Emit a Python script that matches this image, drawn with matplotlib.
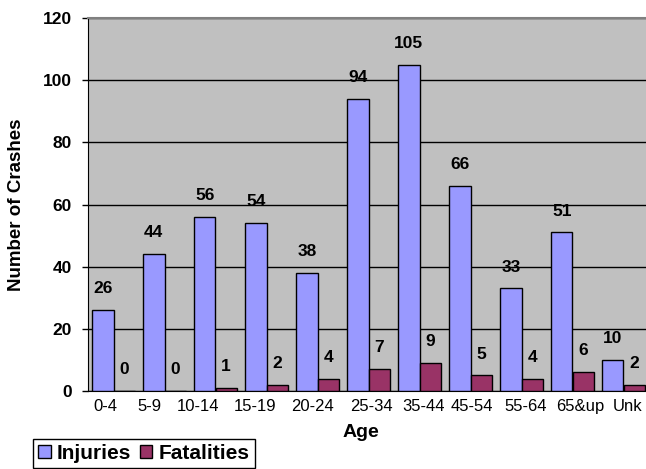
import numpy as np
import matplotlib.pyplot as plt
from matplotlib.transforms import ScaledTranslation

plt.rcParams['font.family'] = ['Liberation Sans', 'DejaVu Sans']

ages = ["0-4", "5-9", "10-14", "15-19", "20-24", "25-34", "35-44", "45-54", "55-64", "65&up", "Unk"]
injuries = [26, 44, 56, 54, 38, 94, 105, 66, 33, 51, 10]
fatalities = [0, 0, 1, 2, 4, 7, 9, 5, 4, 6, 2]

W, H = 646, 469
fig = plt.figure(figsize=(W / 100, H / 100), dpi=100)
# plot area runs slightly past the right edge, as in the original
ax = fig.add_axes([88 / W, (H - 391) / H, 561 / W, 373 / H])
ax.set_facecolor("#C0C0C0")

x = np.arange(len(ages))
w = 0.42
b1 = ax.bar(x - w / 2, injuries, w, color="#9999FF", edgecolor="black", linewidth=1, label="Injuries", zorder=3)
b2 = ax.bar(x + w / 2, fatalities, w, color="#993366", edgecolor="black", linewidth=1, label="Fatalities", zorder=3)

for bars in (b1, b2):
    for r in bars:
        ax.annotate(f"{int(r.get_height())}", (r.get_x() + r.get_width() / 2, r.get_height()),
                    xytext=(0, 10), textcoords="offset points",
                    ha="center", va="bottom", fontsize=12.5, fontweight="bold", zorder=4)

ax.set_xlim(-0.5, len(ages) - 0.5)
ax.set_ylim(0, 120)
ax.set_yticks(range(0, 121, 20))
ax.yaxis.grid(True, color="black", linewidth=1, zorder=1)
ax.set_xticks(x)
ax.set_xticklabels(ages, fontsize=12)
ax.tick_params(axis="x", length=0, pad=6)
ax.tick_params(axis="y", length=4.5, width=1, pad=7, labelsize=12.5)
for t in ax.get_yticklabels():
    t.set_fontweight("bold")

# the original squeezes the category labels a little, shift them (pixels)
label_shift = [-8.5, -15, -18, -11.5, -4.5, 2.5, 4.5, 1.5, 4, 7.5, 4.5]
for t, dx in zip(ax.get_xticklabels(), label_shift):
    t.set_transform(t.get_transform() + ScaledTranslation(dx / 100, 0, fig.dpi_scale_trans))

ax.spines["top"].set_color("#808080")
ax.spines["top"].set_linewidth(1.5)
ax.spines["right"].set_visible(False)
ax.spines["left"].set_color("black")
ax.spines["bottom"].set_color("black")

ax.set_ylabel("Number of Crashes", fontsize=13.5, fontweight="bold")
ax.yaxis.set_label_coords((17 - 88) / 561, 0.5)
ax.set_xlabel("Age", fontsize=14, fontweight="bold")
ax.xaxis.set_label_coords((361 - 88) / 561, (391 - 432) / 373)
ax.xaxis.label.set_va("center")
ax.yaxis.label.set_va("center")

fig.legend(loc="upper left", bbox_to_anchor=(33 / W, 1 - 439 / H), ncol=2, frameon=True, fancybox=False,
           edgecolor="black", framealpha=1, prop={"weight": "bold", "size": 15}, handlelength=0.6,
           handleheight=0.6, handletextpad=0.3, columnspacing=0.4, borderpad=0.25, borderaxespad=0)

fig.savefig("out.png", dpi=100)
